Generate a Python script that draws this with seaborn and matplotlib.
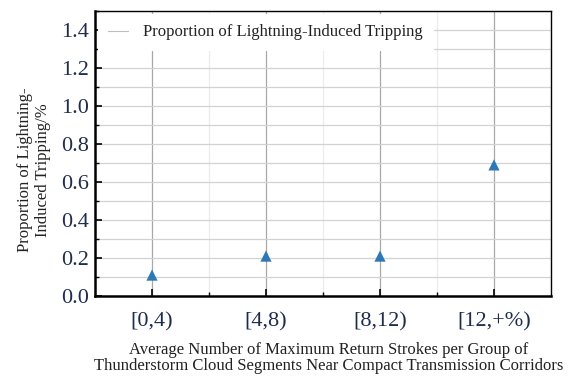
import matplotlib
matplotlib.use("Agg")
import matplotlib.pyplot as plt
import seaborn as sns
import pandas as pd
from matplotlib.ticker import MultipleLocator, FixedLocator
from matplotlib.lines import Line2D

categories = ["[0,4)", "[4,8)", "[8,12)", "[12,+%)"]
proportions = [0.11, 0.21, 0.21, 0.69]
series_name = "Proportion of Lightning-Induced Tripping"

df = pd.DataFrame({"cat": categories, "val": proportions, "series": series_name})

sns.set_theme(style="white")
plt.rcParams["font.family"] = ["Liberation Serif", "DejaVu Serif"]

fig = plt.figure(figsize=(5.74, 3.76), dpi=100)
ax = fig.add_axes([95/574, 1-296/376, (551-95)/574, (296-11)/376])

ax.set_axisbelow(True)
sns.scatterplot(data=df, x="cat", y="val", marker="^", s=65, color="#2f78b7",
                edgecolor="none", ax=ax, legend=False, zorder=3)

ax.set_xlim(-0.5, 3.5)
ax.set_ylim(0, 1.5)
ax.yaxis.set_major_locator(MultipleLocator(0.2))
ax.yaxis.set_minor_locator(MultipleLocator(0.1))
ax.xaxis.set_minor_locator(FixedLocator([0.5, 1.5, 2.5]))

ax.grid(True, which="major", axis="x", color="#a8a8a8", lw=0.9)
ax.grid(True, which="minor", axis="x", color="#ececec", lw=0.9)
ax.grid(True, which="both", axis="y", color="#d2d2d2", lw=0.9)

ax.tick_params(axis="both", which="major", direction="in", length=5, width=1.2,
               color="black", bottom=True, left=True)
ax.tick_params(axis="both", which="minor", direction="in", length=3, width=1.0,
               color="black", bottom=True, left=True)
ax.tick_params(axis="y", labelsize=16, labelcolor="#1f2d4d", pad=4)
ax.tick_params(axis="x", labelsize=16, labelcolor="#1f2d4d", pad=12)
ax.set_yticklabels([f"{v:.1f}" for v in ax.get_yticks()])

for side, lw in [("left", 1.8), ("bottom", 1.8), ("top", 1.0), ("right", 1.0)]:
    ax.spines[side].set_visible(True)
    ax.spines[side].set_color("black")
    ax.spines[side].set_linewidth(lw)

ax.set_xlabel("Average Number of Maximum Return Strokes per Group of\n"
              "Thunderstorm Cloud Segments Near Compact Transmission Corridors",
              fontsize=12, color="#222222", linespacing=1.05)
ax.xaxis.set_label_coords(0.513, -0.16)
ax.set_ylabel("Proportion of Lightning-\nInduced Tripping/%", fontsize=12,
              color="#222222", linespacing=1.15)
ax.yaxis.set_label_coords(-0.096, 0.442)

h = Line2D([], [], color="#bdbdbd", lw=0.8)
leg = ax.legend([h], [series_name], loc="upper left", fontsize=12,
                frameon=True, framealpha=1, edgecolor="white", facecolor="white",
                handlelength=1.2, handletextpad=0.9, borderaxespad=0.15,
                borderpad=0.65, fancybox=False)
leg.get_frame().set_linewidth(0)
for t in leg.get_texts():
    t.set_color("#222222")

fig.savefig("out.png", dpi=100)
